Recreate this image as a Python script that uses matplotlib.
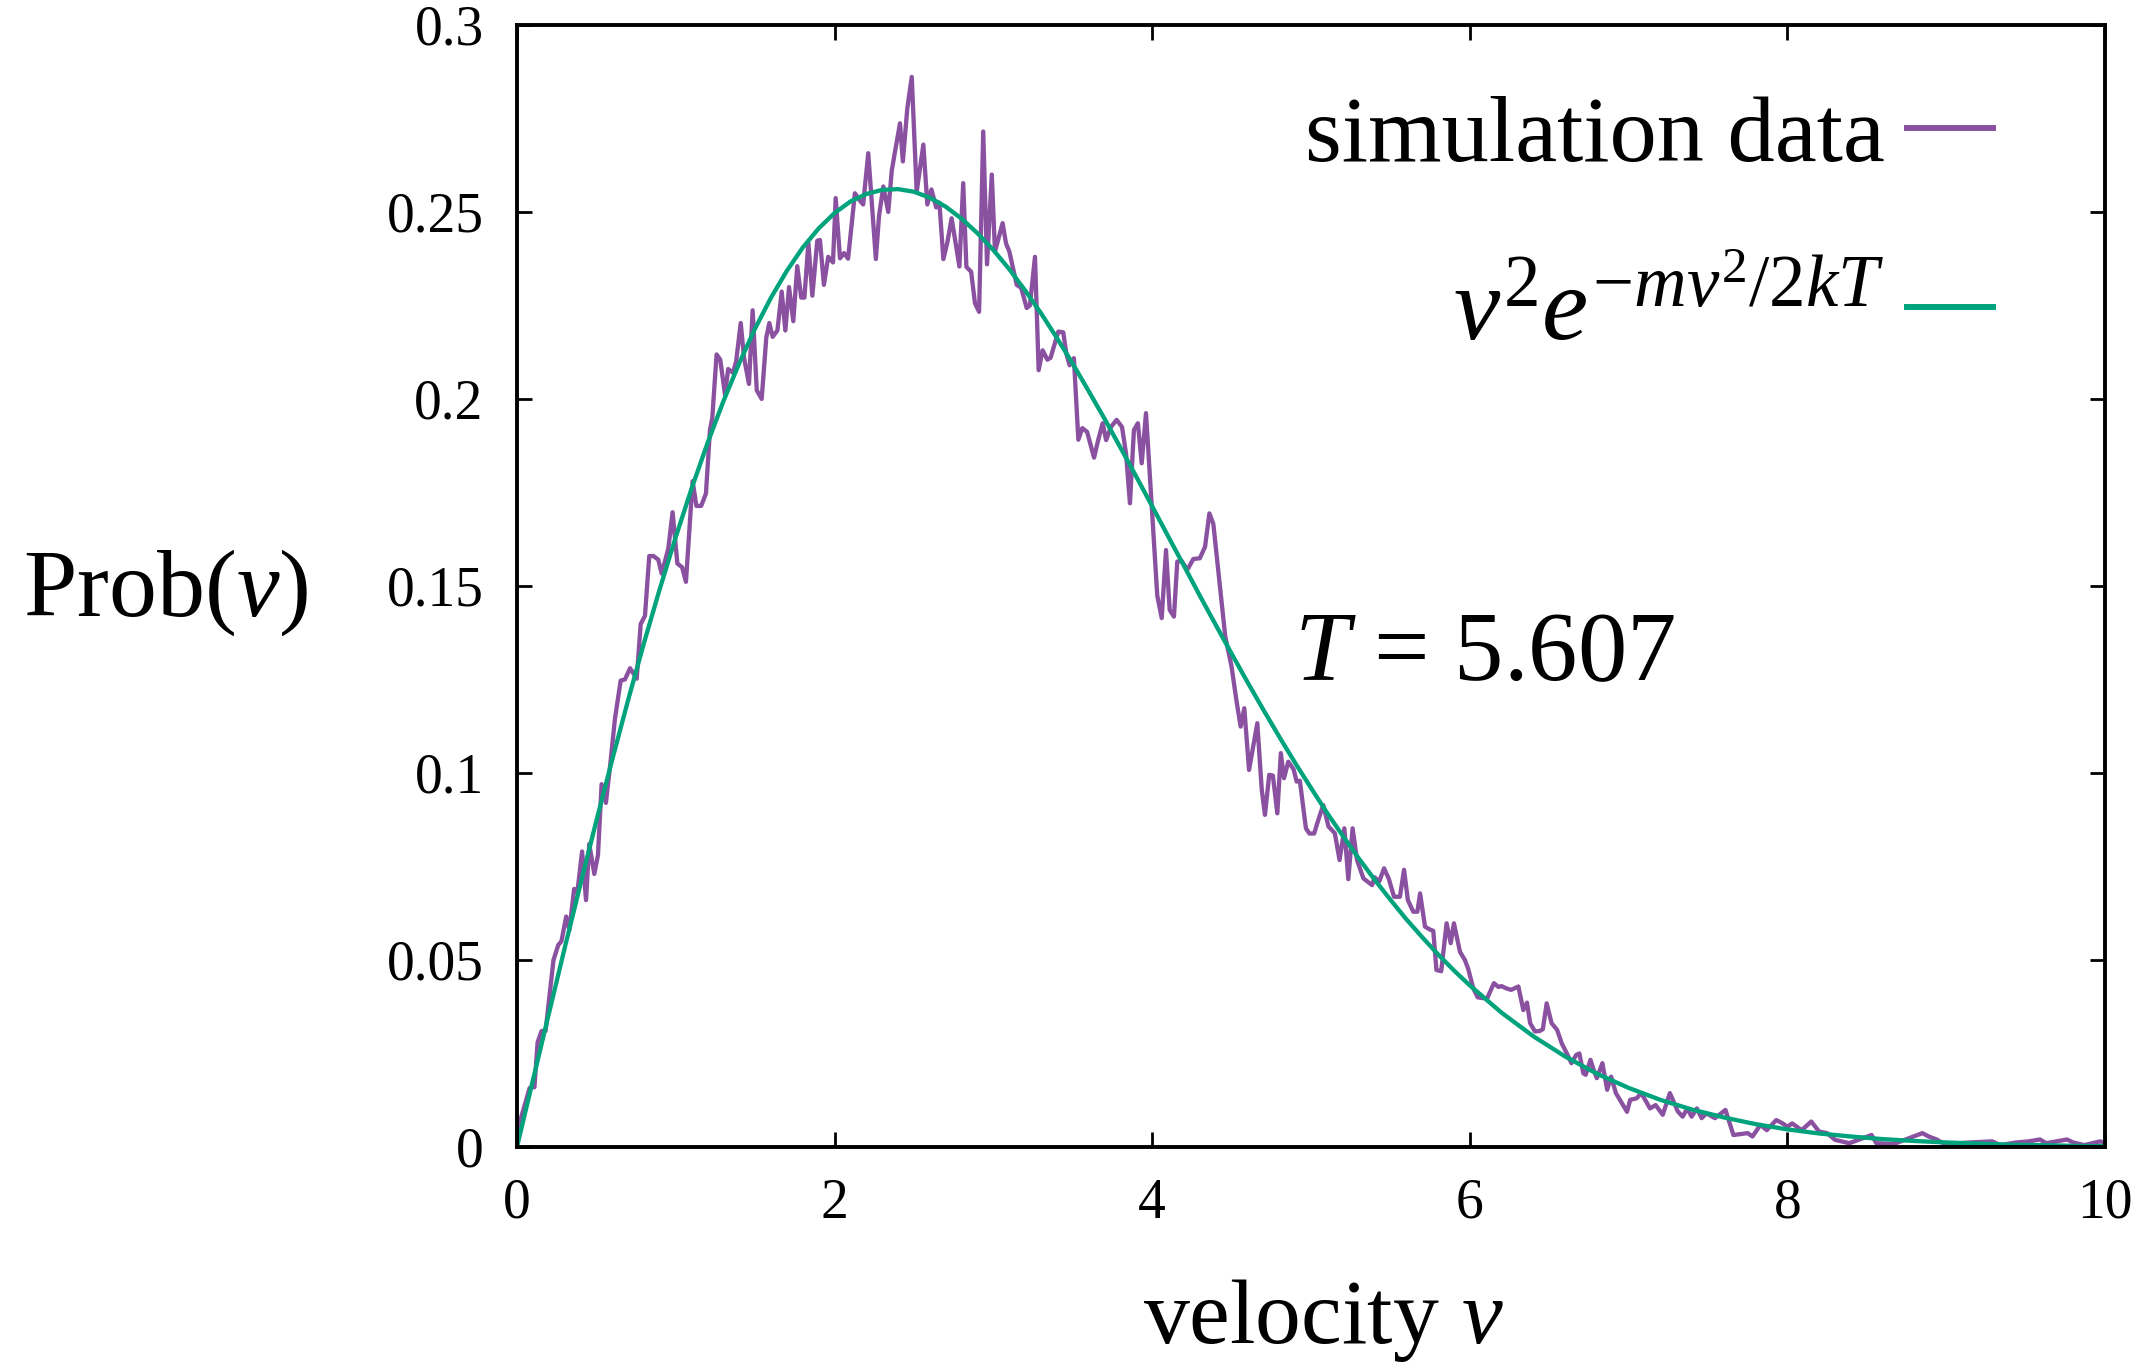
"""
Speed distribution from the MD run against the fitted Maxwell form.
Gnuplot-like look: serif text, boxed axes, inward ticks on all sides.
"""

import matplotlib
matplotlib.use("Agg")
import matplotlib.pyplot as plt
from matplotlib.ticker import FuncFormatter

# histogram of particle speeds (vertices)
sim_v = [0.00, 0.02, 0.08, 0.11, 0.13, 0.155, 0.18, 0.23, 0.26, 0.28,
         0.31, 0.33, 0.36, 0.38, 0.41, 0.435, 0.455, 0.487, 0.51, 0.533,
         0.56, 0.586, 0.617, 0.653, 0.68, 0.712, 0.754, 0.779, 0.806, 0.833,
         0.86, 0.89, 0.911, 0.953, 0.98, 1.01, 1.04, 1.064, 1.106, 1.13,
         1.16, 1.19, 1.215, 1.23, 1.257, 1.28, 1.31, 1.33, 1.36, 1.38,
         1.409, 1.43, 1.461, 1.484, 1.51, 1.541, 1.57, 1.589, 1.61, 1.64,
         1.667, 1.69, 1.713, 1.74, 1.765, 1.79, 1.81, 1.835, 1.86, 1.891,
         1.908, 1.933, 1.96, 1.99, 2.007, 2.034, 2.06, 2.085, 2.128, 2.16,
         2.18, 2.212, 2.26, 2.28, 2.307, 2.338, 2.36, 2.38, 2.412, 2.43,
         2.458, 2.486, 2.517, 2.559, 2.584, 2.61, 2.64, 2.66, 2.685, 2.71,
         2.737, 2.786, 2.81, 2.83, 2.86, 2.884, 2.91, 2.936, 2.96, 2.99,
         3.01, 3.058, 3.08, 3.10, 3.147, 3.175, 3.21, 3.23, 3.262, 3.285,
         3.31, 3.34, 3.36, 3.409, 3.44, 3.46, 3.48, 3.507, 3.535, 3.56,
         3.59, 3.634, 3.66, 3.688, 3.71, 3.74, 3.776, 3.81, 3.835, 3.86,
         3.885, 3.91, 3.934, 3.961, 4.032, 4.06, 4.087, 4.11, 4.137, 4.158,
         4.185, 4.221, 4.259, 4.30, 4.333, 4.36, 4.385, 4.46, 4.50, 4.53,
         4.557, 4.58, 4.61, 4.64, 4.662, 4.69, 4.71, 4.737, 4.76, 4.788,
         4.81, 4.83, 4.857, 4.89, 4.91, 4.93, 4.968, 4.99, 5.02, 5.04,
         5.077, 5.11, 5.15, 5.18, 5.21, 5.235, 5.262, 5.29, 5.33, 5.385,
         5.40, 5.43, 5.46, 5.49, 5.523, 5.56, 5.586, 5.61, 5.644, 5.67,
         5.687, 5.718, 5.75, 5.77, 5.79, 5.82, 5.854, 5.88, 5.90, 5.938,
         5.97, 5.99, 6.022, 6.05, 6.08, 6.11, 6.152, 6.18, 6.20, 6.23,
         6.26, 6.306, 6.337, 6.36, 6.38, 6.41, 6.44, 6.46, 6.484, 6.515,
         6.55, 6.579, 6.61, 6.64, 6.67, 6.69, 6.715, 6.73, 6.76, 6.78,
         6.80, 6.835, 6.865, 6.89, 6.92, 6.99, 7.01, 7.05, 7.08, 7.135,
         7.17, 7.215, 7.26, 7.31, 7.34, 7.37, 7.397, 7.43, 7.46, 7.49,
         7.544, 7.61, 7.66, 7.75, 7.78, 7.83, 7.87, 7.93, 7.97, 8.00,
         8.03, 8.06, 8.09, 8.15, 8.20, 8.25, 8.30, 8.39, 8.53, 8.56,
         8.67, 8.85, 8.89, 8.94, 8.98, 9.08, 9.15, 9.29, 9.34, 9.44,
         9.52, 9.59, 9.63, 9.76, 9.80, 9.87, 9.97, 10.0]
sim_p = [0.000, 0.0070, 0.0158, 0.0160, 0.0280, 0.0310, 0.0310, 0.0500, 0.0540, 0.0550,
         0.0616, 0.0580, 0.0690, 0.0680, 0.0790, 0.0660, 0.0810, 0.0730, 0.0780, 0.0970,
         0.0920, 0.1017, 0.1145, 0.1247, 0.1250, 0.1280, 0.1252, 0.1398, 0.1420, 0.1580,
         0.1580, 0.1570, 0.1533, 0.1600, 0.1697, 0.1560, 0.1550, 0.1511, 0.1780, 0.1714,
         0.1714, 0.1747, 0.1916, 0.1950, 0.2119, 0.2105, 0.2012, 0.2080, 0.2070, 0.2100,
         0.2203, 0.2110, 0.2040, 0.2237, 0.2023, 0.2000, 0.2164, 0.2203, 0.2166, 0.2183,
         0.2287, 0.2183, 0.2299, 0.2208, 0.2355, 0.2271, 0.2271, 0.2417, 0.2276, 0.2423,
         0.2425, 0.2305, 0.2380, 0.2365, 0.2537, 0.2376, 0.2390, 0.2375, 0.2550, 0.2530,
         0.2520, 0.2657, 0.2374, 0.2490, 0.2568, 0.2500, 0.2610, 0.2660, 0.2737, 0.2635,
         0.2777, 0.2861, 0.2554, 0.2680, 0.2520, 0.2560, 0.2512, 0.2525, 0.2374, 0.2418,
         0.2483, 0.2354, 0.2577, 0.2353, 0.2340, 0.2256, 0.2233, 0.2715, 0.2360, 0.2600,
         0.2394, 0.2470, 0.2415, 0.2395, 0.2305, 0.2297, 0.2243, 0.2250, 0.2380, 0.2077,
         0.2130, 0.2105, 0.2110, 0.2180, 0.2178, 0.2120, 0.2090, 0.2109, 0.1891, 0.1922,
         0.1912, 0.1843, 0.1890, 0.1935, 0.1890, 0.1925, 0.1944, 0.1925, 0.1855, 0.1721,
         0.1917, 0.1935, 0.1828, 0.1962, 0.1474, 0.1414, 0.1596, 0.1436, 0.1418, 0.1565,
         0.1567, 0.1543, 0.1572, 0.1574, 0.1605, 0.1694, 0.1666, 0.1365, 0.1284, 0.1195,
         0.1124, 0.1173, 0.1008, 0.1080, 0.1133, 0.0955, 0.0888, 0.0995, 0.0993, 0.0892,
         0.1053, 0.0986, 0.1030, 0.1010, 0.0977, 0.0979, 0.0852, 0.0838, 0.0838, 0.0866,
         0.0914, 0.0857, 0.0839, 0.0767, 0.0852, 0.0716, 0.0852, 0.0767, 0.0718, 0.0700,
         0.0721, 0.0710, 0.0745, 0.0717, 0.0669, 0.0669, 0.0741, 0.0660, 0.0629, 0.0629,
         0.0678, 0.0589, 0.0581, 0.0578, 0.0473, 0.0470, 0.0598, 0.0545, 0.0598, 0.0522,
         0.0499, 0.0476, 0.0424, 0.0400, 0.0398, 0.0398, 0.0438, 0.0428, 0.0430, 0.0424,
         0.0420, 0.0429, 0.0366, 0.0386, 0.0331, 0.0309, 0.0310, 0.0315, 0.0384, 0.0331,
         0.0313, 0.0277, 0.0251, 0.0224, 0.0246, 0.0250, 0.0197, 0.0193, 0.0233, 0.0206,
         0.0184, 0.0224, 0.0153, 0.0188, 0.0144, 0.0094, 0.0126, 0.0130, 0.0144, 0.0103,
         0.0112, 0.0086, 0.0144, 0.0095, 0.0081, 0.0103, 0.0081, 0.0103, 0.0077, 0.0090,
         0.0077, 0.0099, 0.0032, 0.0037, 0.0028, 0.0059, 0.0045, 0.0072, 0.0063, 0.0054,
         0.0063, 0.0054, 0.0045, 0.0068, 0.0041, 0.0037, 0.0019, 0.0010, 0.0032, 0.0010,
         0.0008, 0.0037, 0.0028, 0.0020, 0.0010, 0.0010, 0.0012, 0.0015, 0.0005, 0.0012,
         0.0015, 0.0020, 0.0010, 0.0020, 0.0012, 0.0005, 0.0015, 0.0010]

# fitted curve, sampled every 0.1 up to 6 and every 0.2 after
fit_v = [0.0, 0.1, 0.2, 0.3, 0.4, 0.5, 0.6, 0.7, 0.8, 0.9,
         1.0, 1.1, 1.2, 1.3, 1.4, 1.5, 1.6, 1.7, 1.8, 1.9,
         2.0, 2.1, 2.2, 2.3, 2.4, 2.5, 2.6, 2.7, 2.8, 2.9,
         3.0, 3.1, 3.2, 3.3, 3.4, 3.5, 3.6, 3.7, 3.8, 3.9,
         4.0, 4.1, 4.2, 4.3, 4.4, 4.5, 4.6, 4.7, 4.8, 4.9,
         5.0, 5.1, 5.2, 5.3, 5.4, 5.5, 5.6, 5.7, 5.8, 5.9,
         6.0, 6.2, 6.4, 6.6, 6.8, 7.0, 7.2, 7.4, 7.6, 7.8,
         8.0, 8.2, 8.4, 8.6, 8.8, 9.0, 9.2, 9.4, 9.6, 9.8, 10.0]
fit_p = [0.0000, 0.0178, 0.0355, 0.0531, 0.0703, 0.0872, 0.1036, 0.1195, 0.1348, 0.1493,
         0.1631, 0.1761, 0.1882, 0.1994, 0.2096, 0.2189, 0.2271, 0.2343, 0.2405, 0.2456,
         0.2497, 0.2528, 0.2548, 0.2559, 0.2561, 0.2554, 0.2538, 0.2514, 0.2482, 0.2443,
         0.2398, 0.2347, 0.2290, 0.2229, 0.2163, 0.2094, 0.2021, 0.1947, 0.1870, 0.1792,
         0.1713, 0.1633, 0.1554, 0.1474, 0.1396, 0.1319, 0.1243, 0.1169, 0.1097, 0.1027,
         0.0960, 0.0894, 0.0832, 0.0772, 0.0715, 0.0661, 0.0609, 0.0561, 0.0515, 0.0472,
         0.0432, 0.0359, 0.0296, 0.0242, 0.0196, 0.0158, 0.0126, 0.0100, 0.0079, 0.0061,
         0.0047, 0.0036, 0.0028, 0.0021, 0.0016, 0.0012, 0.0009, 0.0006, 0.0005, 0.0003, 0.0002]

x_ticks = [0, 2, 4, 6, 8, 10]
y_ticks = [0, 0.05, 0.1, 0.15, 0.2, 0.25, 0.3]
T_fit = "5.607"

PURPLE = "#8b51a1"
GREEN = "#00a37c"


def set_style():
    plt.rcParams["font.family"] = ["Liberation Serif", "DejaVu Serif"]
    plt.rcParams["mathtext.fontset"] = "custom"
    plt.rcParams["mathtext.rm"] = "Liberation Serif"
    plt.rcParams["mathtext.it"] = "Liberation Serif:italic"
    plt.rcParams["mathtext.cal"] = "Liberation Serif:italic"


def main():
    set_style()
    fig = plt.figure(figsize=(21.46, 13.70), dpi=100)
    ax = fig.add_axes([0.2409, 0.1628, 0.7400, 0.8190])

    ax.plot(sim_v, sim_p, color=PURPLE, lw=3.1, label="simulation data")
    ax.plot(fit_v, fit_p, color=GREEN, lw=3.1,
            label=r"$v^2e^{-mv^2/2kT}$")

    ax.set_xlim(0, 10)
    ax.set_ylim(0, 0.3)
    ax.set_xticks(x_ticks)
    ax.set_yticks(y_ticks)
    ax.yaxis.set_major_formatter(FuncFormatter(lambda y, _: f"{y:g}"))

    for sp in ax.spines.values():
        sp.set_linewidth(2.8)
    ax.tick_params(direction="in", length=11, width=2.0, top=True,
                   right=True, labelsize=40)
    ax.tick_params(axis="x", pad=22)
    ax.tick_params(axis="y", pad=24)

    ax.set_xlabel(r"velocity $v$", fontsize=66)
    ax.xaxis.label.set_va("center")
    ax.xaxis.set_label_coords(0.5076, -0.155)
    ax.set_ylabel(r"Prob$(v)$", fontsize=69, rotation=0,
                  ha="center", va="center")
    ax.yaxis.set_label_coords(-0.221, 0.494)

    ax.text(4.89, 0.1249, rf"$T$ = {T_fit}", fontsize=71,
            ha="left", va="baseline")

    leg = ax.legend(loc="upper right", bbox_to_anchor=(0.9295, 0.9376),
                    borderaxespad=0, borderpad=0, frameon=False,
                    markerfirst=False, fontsize=68, handlelength=0.91,
                    handletextpad=0.24, labelspacing=0.9)
    for ln in leg.get_lines():
        ln.set_linewidth(4.3)
    texts = leg.get_texts()
    for txt in texts:
        txt.set_ha("right")
    texts[1].set_fontsize(75)

    fig.savefig("out.png", dpi=100)
    plt.close(fig)


if __name__ == "__main__":
    main()
